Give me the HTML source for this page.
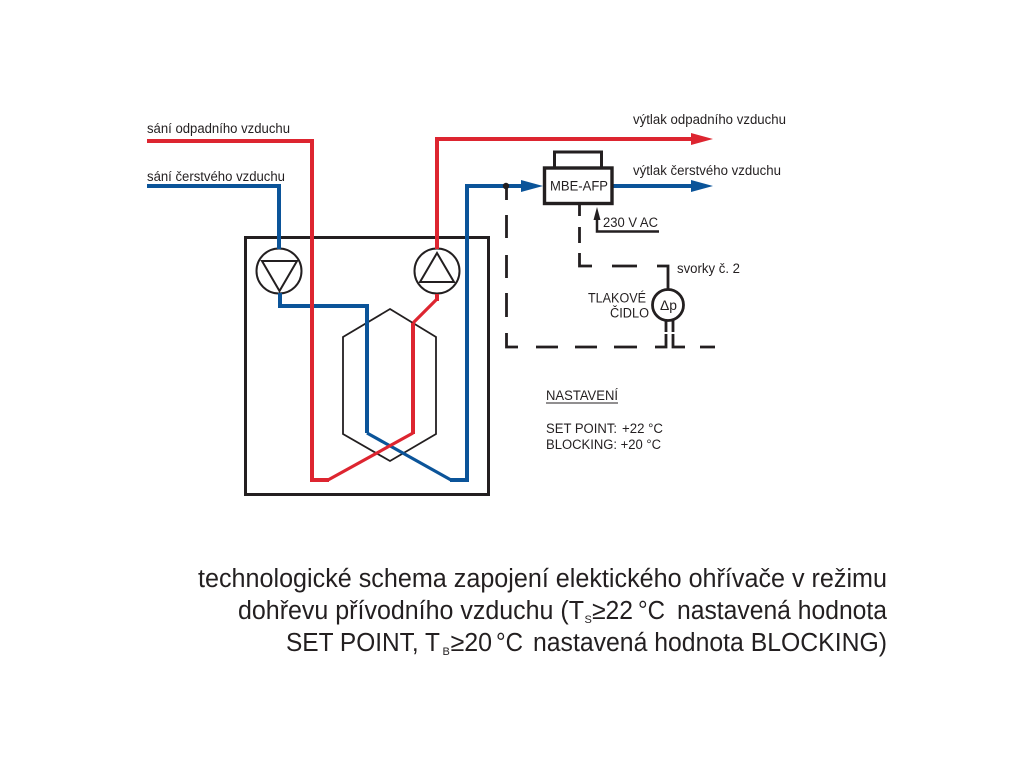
<!DOCTYPE html>
<html><head><meta charset="utf-8"><style>
html,body{margin:0;padding:0;background:#fff}
svg{display:block}
text{font-family:"Liberation Sans",sans-serif;fill:#231f20}
.s{font-size:13.5px}
.c{font-size:25.5px}
</style></head><body>
<svg width="1024" height="768" viewBox="0 0 1024 768" xmlns="http://www.w3.org/2000/svg">
<rect width="1024" height="768" fill="#fff"/>
<rect x="245.5" y="237.5" width="243" height="257" fill="none" stroke="#231f20" stroke-width="3"/>
<polygon points="390,309 436,337 436,434 390,461 343,434 343,337" fill="none" stroke="#231f20" stroke-width="1.8"/>
<g fill="none" stroke="#231f20" stroke-width="2">
<circle cx="279" cy="271" r="22.5"/><circle cx="437" cy="271" r="22.5"/>
<polygon points="262,261 297,261 279.500,291"/>
<polygon points="437,253 420,282 454,282"/>
</g>
<g fill="none" stroke-width="4" stroke-linejoin="miter">
<polyline stroke="#0b5499" points="147,186 279,186 279,249"/>
<polyline stroke="#0b5499" points="280,293 280,306 367,306 367,433"/>
<polyline stroke="#0b5499" stroke-width="3.200" points="367,433 451,480"/>
<polyline stroke="#0b5499" points="450,480 467,480 467,186 525,186"/>
<polyline stroke="#0b5499" points="613,186 693,186"/>
<polyline stroke="#dd2530" points="147,141 312,141 312,480 329,480"/>
<polyline stroke="#dd2530" stroke-width="3.200" points="328,480 413,433"/>
<polyline stroke="#dd2530" points="413,434 413,323"/>
<polyline stroke="#dd2530" stroke-width="3.200" points="413,323 437,299"/>
<polyline stroke="#dd2530" points="437,301 437,294"/>
<polyline stroke="#dd2530" points="437,249 437,139 693,139"/>
</g>
<polygon points="691,133 713,139 691,145" fill="#dd2530"/>
<polygon points="691,180 713,186 691,192" fill="#0b5499"/>
<polygon points="521,180 543,186 521,192" fill="#0b5499"/>
<rect x="544.500" y="168" width="67.500" height="35.500" fill="#fff" stroke="#231f20" stroke-width="3.400"/>
<polyline points="554.500,167 554.500,152 601.500,152 601.500,167" fill="none" stroke="#231f20" stroke-width="3"/>
<circle cx="506" cy="186" r="3.200" fill="#231f20"/>
<g fill="none" stroke="#231f20" stroke-width="2.800">
<path d="M506.500 188V200M506.500 215V238M506.500 255V278M506.500 293V317M506.500 333V347H518M536 347H558M575 347H597M614 347H637M655 347H666V334M666 332V320"/>
<path d="M673 320V332M673 334V347H685M700 347H715"/>
<path d="M579.500 203V216M579.500 227V243M579.500 253V266H592M612 266H637M657 266H668V289"/>
<polyline points="597,218 597,231.500 659,231.500" stroke-width="2.500"/>
<circle cx="668" cy="305" r="15.500" fill="#fff"/>
</g>
<polygon points="597,207 600.500,220 593.500,220" fill="#231f20"/>
<text class="s" x="147" y="133" textLength="143" lengthAdjust="spacingAndGlyphs">sání odpadního vzduchu</text>
<text class="s" x="147" y="181" textLength="138" lengthAdjust="spacingAndGlyphs">sání čerstvého vzduchu</text>
<text class="s" x="633" y="124" textLength="153" lengthAdjust="spacingAndGlyphs">výtlak odpadního vzduchu</text>
<text class="s" x="633" y="175" textLength="148" lengthAdjust="spacingAndGlyphs">výtlak čerstvého vzduchu</text>
<text class="s" x="550" y="190.500" textLength="58" lengthAdjust="spacingAndGlyphs">MBE-AFP</text>
<text class="s" x="603" y="227" textLength="55" lengthAdjust="spacingAndGlyphs">230 V AC</text>
<text class="s" x="677" y="273" textLength="63" lengthAdjust="spacingAndGlyphs">svorky č. 2</text>
<text class="s" x="588" y="302.500" textLength="58" lengthAdjust="spacingAndGlyphs">TLAKOVÉ</text>
<text class="s" x="610" y="317.500" textLength="39" lengthAdjust="spacingAndGlyphs">ČIDLO</text>
<text class="s" x="660" y="310" textLength="17" lengthAdjust="spacingAndGlyphs">Δp</text>
<text class="s" x="546" y="400" textLength="72" lengthAdjust="spacingAndGlyphs">NASTAVENÍ</text>
<line x1="546" y1="403" x2="618" y2="403" stroke="#231f20" stroke-width="1"/>
<text class="s" x="546" y="433" textLength="71" lengthAdjust="spacingAndGlyphs">SET POINT:</text>
<text class="s" x="622" y="433" textLength="41" lengthAdjust="spacingAndGlyphs">+22 °C</text>
<text class="s" x="546" y="449" textLength="115" lengthAdjust="spacingAndGlyphs">BLOCKING: +20 °C</text>
<text class="c" x="198" y="587" textLength="689" lengthAdjust="spacingAndGlyphs">technologické schema zapojení elektického ohřívače v režimu</text>
<text class="c" x="238" y="619" textLength="346" lengthAdjust="spacingAndGlyphs">dohřevu přívodního vzduchu (T</text>
<text x="584.500" y="623" font-size="11">S</text>
<text class="c" x="592" y="619" textLength="41" lengthAdjust="spacingAndGlyphs">≥22</text>
<text class="c" x="638" y="619" textLength="27" lengthAdjust="spacingAndGlyphs">°C</text>
<text class="c" x="677" y="619" textLength="210" lengthAdjust="spacingAndGlyphs">nastavená hodnota</text>
<text class="c" x="286" y="651" textLength="154" lengthAdjust="spacingAndGlyphs">SET POINT, T</text>
<text x="442.500" y="655" font-size="11">B</text>
<text class="c" x="450.500" y="651" textLength="41.500" lengthAdjust="spacingAndGlyphs">≥20</text>
<text class="c" x="496" y="651" textLength="27" lengthAdjust="spacingAndGlyphs">°C</text>
<text class="c" x="533" y="651" textLength="354" lengthAdjust="spacingAndGlyphs">nastavená hodnota BLOCKING)</text>
</svg>
</body></html>
